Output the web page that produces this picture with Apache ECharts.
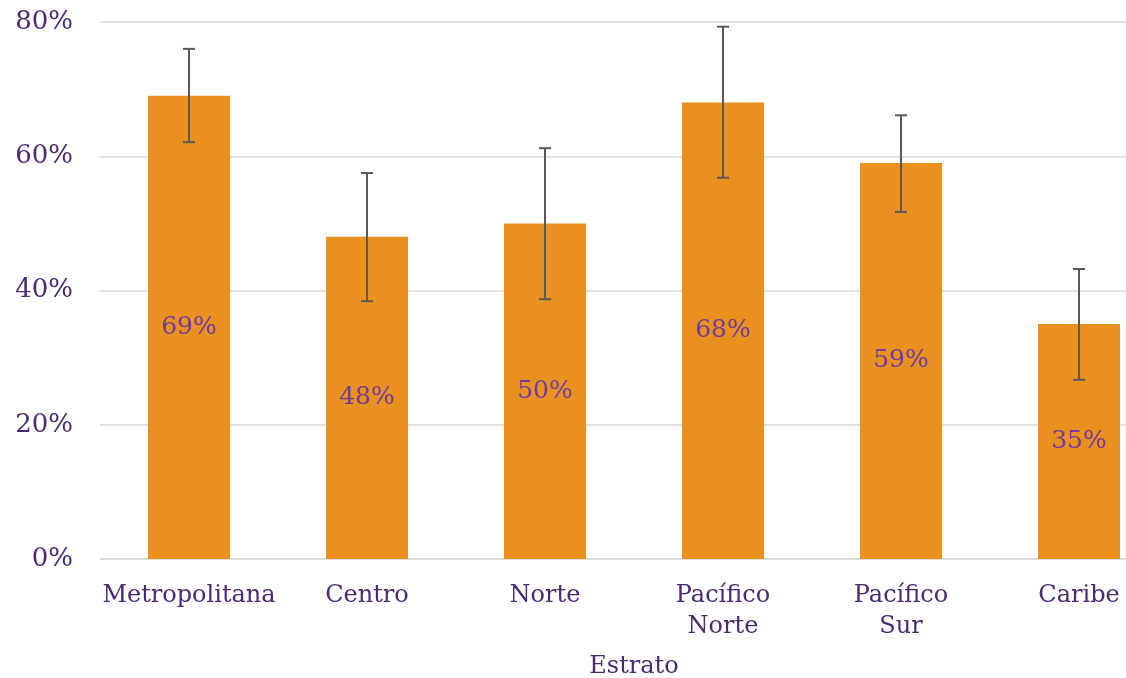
<!DOCTYPE html>
<html><head><meta charset="utf-8">
<script src="https://cdn.jsdelivr.net/npm/echarts@6/dist/echarts.min.js"></script>
<style>html,body{margin:0;padding:0;background:#fff}#c{width:1126px;height:678px}</style>
</head><body><div id="c"></div>
<script>
const categories = ['Metropolitana', 'Centro', 'Norte', 'Pacífico\nNorte', 'Pacífico\nSur', 'Caribe'];
const values = [69, 48, 50, 68, 59, 35];
const errLow = [62.1, 38.4, 38.7, 56.8, 51.7, 26.7];
const errHigh = [76.0, 57.5, 61.2, 79.3, 66.1, 43.2];
const yTicks = [0, 20, 40, 60, 80];

const FONT = 'DejaVu Serif';
const chart = echarts.init(document.getElementById('c'));
const errData = categories.map((c, i) => [i, errLow[i], errHigh[i]]);
chart.setOption({
  animation: false,
  grid: { left: 100, width: 1068, top: 22, height: 537, containLabel: false, outerBoundsMode: 'none' },
  xAxis: {
    type: 'category', data: categories,
    name: 'Estrato', nameLocation: 'middle', nameGap: 96,
    nameTextStyle: { fontFamily: FONT, fontSize: 24, color: '#4B2A72' },
    axisTick: { show: false },
    axisLine: { lineStyle: { color: '#D9D9D9', width: 1.5 } },
    axisLabel: { fontFamily: FONT, fontSize: 24, color: '#4B2A72', margin: 21, lineHeight: 31, interval: 0 }
  },
  yAxis: {
    type: 'value', min: 0, max: 80, interval: 20,
    axisLabel: { fontFamily: FONT, fontSize: 26, color: '#4B2A72', margin: 27, formatter: v => v + '%' },
    splitLine: { lineStyle: { color: '#D9D9D9', width: 1.5 } },
    axisLine: { show: false }, axisTick: { show: false }
  },
  series: [{
    type: 'bar', data: values, barWidth: 82,
    itemStyle: { color: '#EA901E' },
    label: { show: true, position: 'inside', formatter: p => p.value + '%', fontFamily: FONT, fontSize: 25, color: '#6F3B9E' }
  }, {
    type: 'custom', data: errData, z: 10,
    renderItem: (params, api) => {
      const x = api.value(0);
      const lo = api.coord([x, api.value(1)]);
      const hi = api.coord([x, api.value(2)]);
      const hw = 6;
      const style = { stroke: '#595959', lineWidth: 2 };
      return { type: 'group', children: [
        { type: 'line', shape: { x1: lo[0], y1: lo[1], x2: hi[0], y2: hi[1] }, style },
        { type: 'line', shape: { x1: lo[0] - hw, y1: lo[1], x2: lo[0] + hw, y2: lo[1] }, style },
        { type: 'line', shape: { x1: hi[0] - hw, y1: hi[1], x2: hi[0] + hw, y2: hi[1] }, style }
      ]};
    }
  }]
});
</script></body></html>
